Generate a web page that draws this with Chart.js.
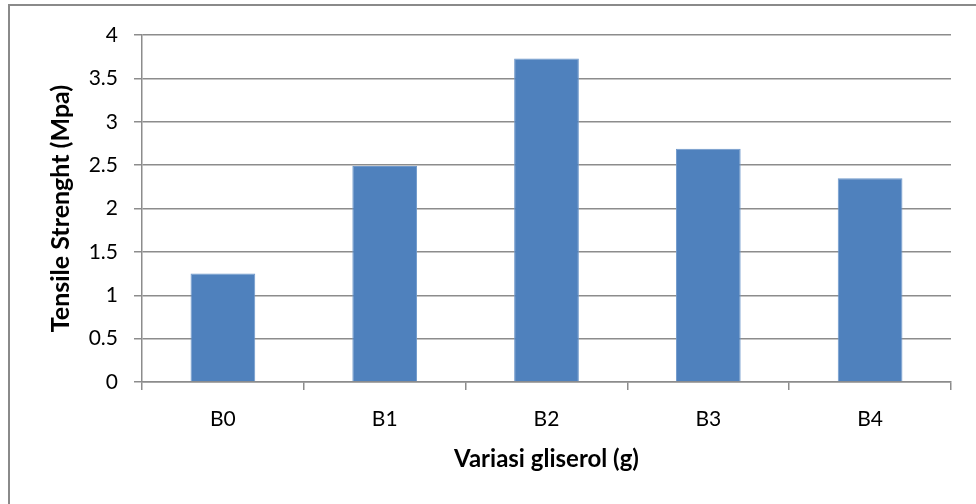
<!DOCTYPE html>
<html>
<head>
<meta charset="utf-8">
<script src="https://cdn.jsdelivr.net/npm/chart.js@4"></script>
<style>
  html, body { margin: 0; padding: 0; background: #ffffff; }
  #wrap { position: relative; width: 976px; height: 504px; }
  canvas { display: block; }
</style>
</head>
<body>
<div id="wrap"><canvas id="chart" width="976" height="504"></canvas></div>
<script>
// Tensile strength per glycerol variation
const categories = ['B0', 'B1', 'B2', 'B3', 'B4'];
const tensileValues = [1.25, 2.49, 3.73, 2.69, 2.35];
const yTitle = 'Tensile Strenght (Mpa)';
const xTitle = 'Variasi gliserol (g)';

const FONT = 'Lato, "Liberation Sans", sans-serif';
const GRID = '#8c8c8c';

// Frame around the chart area (the outer chart box edge)
const frame = {
  id: 'frame',
  afterDraw(chart) {
    const c = chart.ctx;
    c.save();
    c.strokeStyle = '#8a8a8a';
    c.lineWidth = 2;
    c.beginPath();
    c.moveTo(9, 504);
    c.lineTo(9, 5);
    c.lineTo(976, 5);
    c.stroke();
    c.restore();
  }
};

new Chart(document.getElementById('chart'), {
  type: 'bar',
  data: {
    labels: categories,
    datasets: [{
      data: tensileValues,
      backgroundColor: '#4F81BD',
      borderColor: '#6f98cb',
      borderWidth: 1,
      barPercentage: 0.4,
      categoryPercentage: 1.0
    }]
  },
  options: {
    responsive: false,
    animation: false,
    devicePixelRatio: 1,
    layout: { padding: { left: 46, top: 35, right: 25, bottom: 30 } },
    plugins: { legend: { display: false }, tooltip: { enabled: false } },
    scales: {
      x: {
        afterFit(scale) { scale.height = 92; },
        grid: { display: true, drawOnChartArea: false, drawTicks: true, tickLength: 8, color: GRID, lineWidth: 1.5 },
        border: { display: true, color: GRID, width: 1.5 },
        ticks: { color: '#000', font: { family: FONT, size: 21 }, padding: 17 },
        title: { display: true, text: xTitle, color: '#000', font: { family: FONT, size: 24, weight: 'bold' }, padding: { top: 0, bottom: 0 } }
      },
      y: {
        min: 0,
        max: 4,
        afterFit(scale) { scale.width = 96; },
        grid: { color: GRID, lineWidth: 1.5, tickLength: 8 },
        border: { display: true, color: GRID, width: 1.5 },
        ticks: { stepSize: 0.5, color: '#000', font: { family: FONT, size: 21 }, padding: 16, callback: v => String(v) },
        title: { display: true, text: yTitle, color: '#000', font: { family: FONT, size: 25, weight: 'bold' }, padding: { top: 0, bottom: 0 } }
      }
    }
  },
  plugins: [frame]
});
</script>
</body>
</html>
